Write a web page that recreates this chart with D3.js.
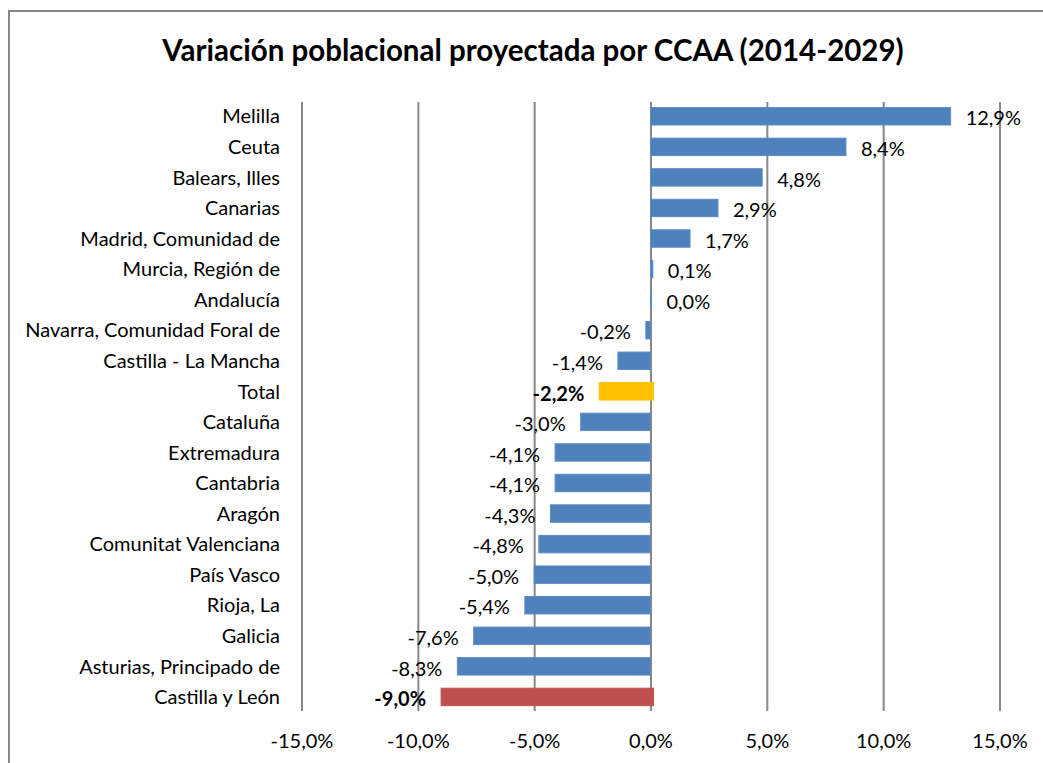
<!DOCTYPE html>
<html>
<head>
<meta charset="utf-8">
<script src="https://cdn.jsdelivr.net/npm/d3@7"></script>
<style>
  html, body { margin: 0; padding: 0; background: #fff; }
  svg { display: block; }
  text { font-family: Lato, "Open Sans", sans-serif; fill: #000; }
</style>
</head>
<body>
<svg id="chart" width="1043" height="763"></svg>
<script>
// ---- Data ----
const categories = [
  "Melilla", "Ceuta", "Balears, Illes", "Canarias", "Madrid, Comunidad de",
  "Murcia, Región de", "Andalucía", "Navarra, Comunidad Foral de",
  "Castilla - La Mancha", "Total", "Cataluña", "Extremadura", "Cantabria",
  "Aragón", "Comunitat Valenciana", "País Vasco", "Rioja, La", "Galicia",
  "Asturias, Principado de", "Castilla y León"
];
const values = [12.9, 8.4, 4.8, 2.9, 1.7, 0.1, 0.04, -0.2, -1.4, -2.2, -3.0, -4.1, -4.1, -4.3, -4.8, -5.0, -5.4, -7.6, -8.3, -9.0];
const highlight = { "Total": "#FFC000", "Castilla y León": "#C0504D" };
const tickValues = [-15, -10, -5, 0, 5, 10, 15];
const title = "Variación poblacional proyectada por CCAA (2014-2029)";

// ---- Drawing ----
const svg = d3.select("#chart");
const locale = d3.formatLocale({ decimal: ",", thousands: ".", grouping: [3], currency: ["", " €"], minus: "-" });
const fmt = v => locale.format(".1f")(v) + "%";

// outer chart border
svg.append("rect")
  .attr("x", 9).attr("y", 11).attr("width", 1100).attr("height", 800)
  .attr("fill", "#fff").attr("stroke", "#878787").attr("stroke-width", 2);

const x = d3.scaleLinear().domain([-15, 15]).range([301.5, 999.5]);
const y = d3.scaleBand().domain(categories).range([101, 712.2])
  .paddingInner(0.43).paddingOuter(0.215);

// gridlines + ticks
const xAxis = d3.axisBottom(x).tickValues(tickValues).tickSize(-609).tickSizeOuter(0)
  .tickFormat(fmt);
const gx = svg.append("g").attr("transform", "translate(0,711)").call(xAxis);
gx.select(".domain").remove();
gx.selectAll(".tick line").attr("stroke", "#878787").attr("stroke-width", 2);
gx.selectAll(".tick text").attr("font-size", 20).attr("fill", "#000")
  .attr("y", 30).attr("dy", "0.35em");

// bars
const data = categories.map((c, i) => ({ c, v: values[i] }));
svg.append("g").selectAll("rect").data(data).join("rect")
  .attr("x", d => Math.min(x(0), x(d.v)))
  .attr("y", d => y(d.c))
  .attr("width", d => Math.abs(x(d.v) - x(0)) + (highlight[d.c] ? 3 : 0))
  .attr("height", y.bandwidth())
  .attr("fill", d => highlight[d.c] || "#4F81BD")
  .attr("stroke", d => highlight[d.c] || "#5B8BC4")
  .attr("stroke-width", 1);

// category labels
svg.append("g").selectAll("text").data(categories).join("text")
  .attr("x", 280).attr("y", d => y(d) + y.bandwidth() / 2)
  .attr("dy", "0.36em").attr("text-anchor", "end")
  .attr("font-size", 20).text(d => d);

// value labels
svg.append("g").selectAll("text").data(data).join("text")
  .attr("x", d => d.v >= 0 ? x(d.v) + 15 : x(d.v) - 15)
  .attr("y", d => y(d.c) + y.bandwidth() / 2 + 2)
  .attr("dy", "0.36em")
  .attr("text-anchor", d => d.v >= 0 ? "start" : "end")
  .attr("font-size", 20)
  .attr("font-weight", d => highlight[d.c] ? "bold" : "normal")
  .text(d => fmt(d.v));

// title
svg.append("text").attr("x", 533).attr("y", 61).attr("text-anchor", "middle")
  .attr("font-size", 29.5).attr("font-weight", "bold").text(title);
</script>
</body>
</html>
